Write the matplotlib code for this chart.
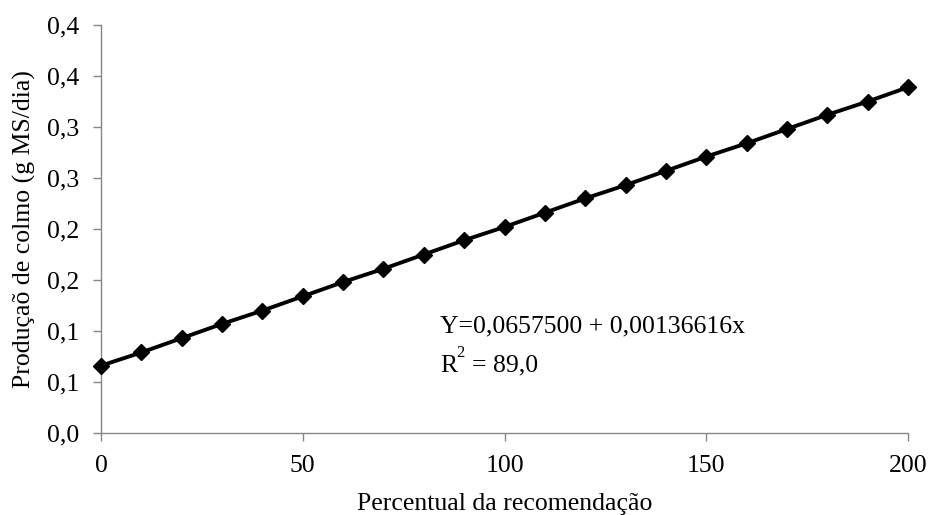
import matplotlib
matplotlib.use("Agg")
import matplotlib.pyplot as plt
from matplotlib.ticker import FuncFormatter

plt.rcParams['font.family'] = ['Liberation Serif', 'DejaVu Serif']

# percentual da recomendação vs produção de colmo
pct = [0, 10, 20, 30, 40, 50, 60, 70, 80, 90, 100,
       110, 120, 130, 140, 150, 160, 170, 180, 190, 200]
prod = [0.066, 0.079, 0.093, 0.107, 0.120, 0.134, 0.148, 0.161, 0.175, 0.189, 0.202,
        0.216, 0.230, 0.243, 0.257, 0.271, 0.284, 0.298, 0.312, 0.325, 0.339]
y_ticks = [0.0, 0.05, 0.10, 0.15, 0.20, 0.25, 0.30, 0.35, 0.40]
x_ticks = [0, 50, 100, 150, 200]

FS = 18.5

fig = plt.figure(figsize=(9.31, 5.15), dpi=100)
ax = fig.add_axes([0.1085, 0.1592, 0.8668, 0.7922])

ax.plot(pct, prod, color='black', lw=2.8, marker='D', markersize=8, zorder=3,
        clip_on=False)

ax.set_xlim(0, 200)
ax.set_ylim(0, 0.40)
ax.set_xticks(x_ticks)
ax.set_yticks(y_ticks)


def one_dec(v, pos):
    # Excel-style rounding (half away from zero), comma decimal
    r = int(v * 10 + 0.5 + 1e-9) / 10
    return f"{r:.1f}".replace('.', ',')


ax.yaxis.set_major_formatter(FuncFormatter(one_dec))

for s in ['top', 'right']:
    ax.spines[s].set_visible(False)
for s in ['left', 'bottom']:
    ax.spines[s].set_color('#868686')
    ax.spines[s].set_linewidth(1.0)
ax.tick_params(axis='both', colors='#868686', labelcolor='black', labelsize=FS,
               length=6, width=1.0, direction='out')
ax.tick_params(axis='x', pad=10)
ax.tick_params(axis='y', pad=10)

ax.set_xlabel('Percentual da recomendação', fontsize=FS)
ax.xaxis.set_label_coords(0.5, -0.147)
fig.text(24 / 931, 1 - 229 / 515, 'Produçaõ de colmo (g MS/dia)', fontsize=FS,
         rotation=90, ha='center', va='center')

# equação da regressão
ax.text(84, 0.099, 'Y=0,0657500 + 0,00136616x', fontsize=FS, va='baseline', ha='left')
ax.annotate('R', (84, 0.060), fontsize=FS, va='baseline', ha='left')
ax.annotate('2', (84, 0.060), xytext=(11.5, 11), textcoords='offset points',
            fontsize=12, va='baseline', ha='left')
ax.annotate('= 89,0', (84, 0.060), xytext=(23, 0), textcoords='offset points',
            fontsize=FS, va='baseline', ha='left')

fig.savefig('out.png', dpi=100)
